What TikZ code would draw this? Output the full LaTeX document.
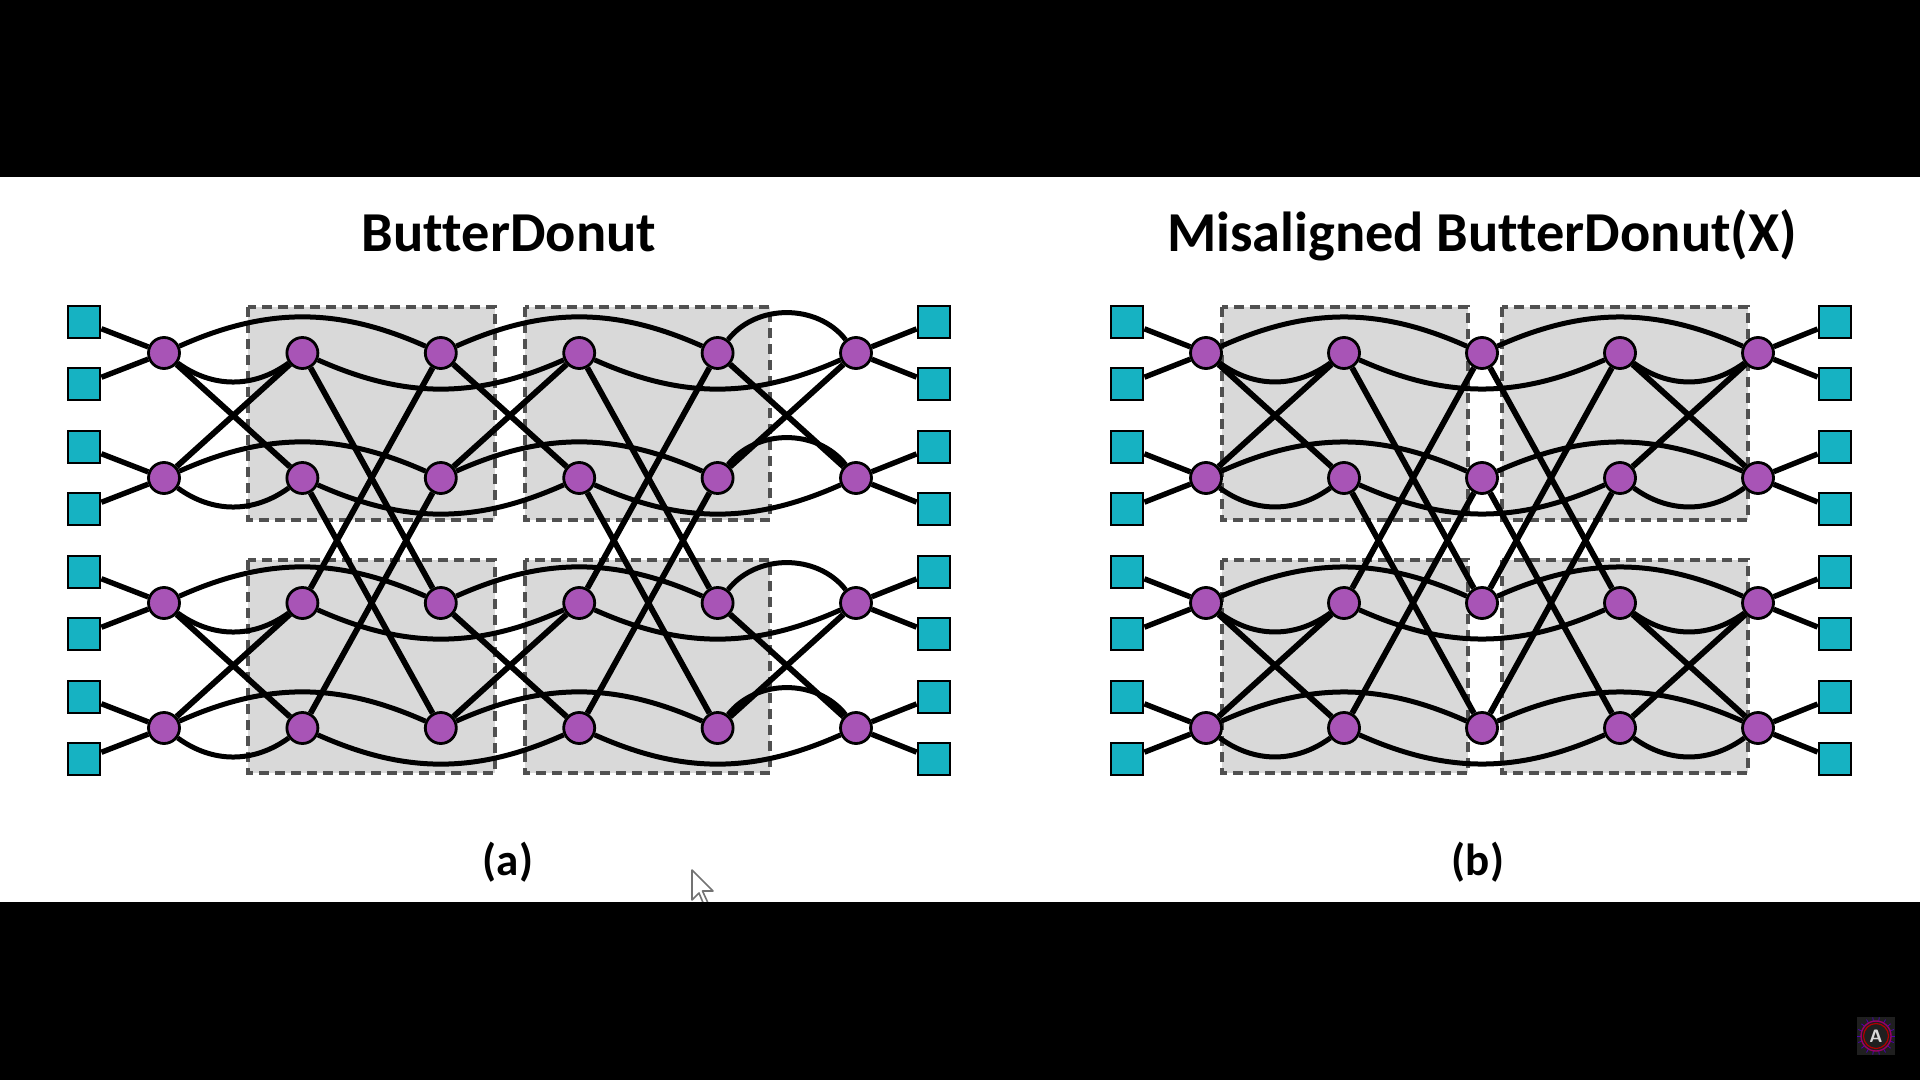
\documentclass[tikz,border=0pt]{standalone}
\usepackage{fontspec}
\setmainfont{Carlito}[Ligatures=CommonOff]
\pgfdeclarelayer{boxes}
\pgfdeclarelayer{edges}
\pgfsetlayers{boxes,edges,main}
\definecolor{routerfill}{RGB}{168,84,182}
\definecolor{termfill}{RGB}{22,178,194}
\definecolor{boxfill}{RGB}{217,217,217}
\definecolor{boxline}{RGB}{80,80,80}
\begin{document}
\begin{tikzpicture}[x=0.5pt,y=-0.5pt,
  router/.style={circle,draw=black,line width=1.4pt,fill=routerfill,minimum size=15.5pt,inner sep=0pt},
  term/.style={rectangle,draw=black,line width=1.4pt,fill=termfill,minimum size=16pt,inner sep=0pt},
  grp/.style={draw=boxline,fill=boxfill,line width=1.8pt,dash pattern=on 5pt off 3pt},
  fly/.style={line width=2.9pt,black},
  ring/.style={line width=2.5pt,black},
  link/.style={line width=2.7pt,black},
  title/.style={font=\bfseries\fontsize{28.2}{31}\selectfont,anchor=base,inner sep=0pt},
  sub/.style={font=\bfseries\fontsize{22.5}{25}\selectfont,anchor=base,inner sep=0pt}]

\useasboundingbox (0,0) rectangle (1920,1080);

% background and group boxes
\begin{pgfonlayer}{boxes}
\fill[white] (0,0) rectangle (1920,1080);
\foreach \xa/\xb in {248/495,525/770,1222/1468,1502/1748}{
  \foreach \ya/\yb in {307/520,560/773}{
    \draw[grp] (\xa,\ya) rectangle (\xb,\yb);
  }
}
\end{pgfonlayer}

% routers
\foreach \c in {0,...,5}{\foreach \r in {0,...,3}{
  \node[router] (a\c\r) at ({164+138.4*\c},{353+125*\r}) {};
}}
\foreach \c in {0,...,4}{\foreach \r in {0,...,3}{
  \node[router] (b\c\r) at ({1206+138*\c},{353+125*\r}) {};
}}

% terminals
\foreach \k/\y in {0/322,1/384,2/447,3/509,4/572,5/634,6/697,7/759}{
  \node[term] (aL\k) at (84,\y) {};
  \node[term] (aR\k) at (934,\y) {};
  \node[term] (bL\k) at (1127,\y) {};
  \node[term] (bR\k) at (1835,\y) {};
}

\begin{pgfonlayer}{edges}
% terminal links
\foreach \r in {0,...,3}{
  \pgfmathtruncatemacro\ka{2*\r}
  \pgfmathtruncatemacro\kb{2*\r+1}
  \draw[link] (aL\ka) -- (a0\r);
  \draw[link] (aL\kb) -- (a0\r);
  \draw[link] (aR\ka) -- (a5\r);
  \draw[link] (aR\kb) -- (a5\r);
  \draw[link] (bL\ka) -- (b0\r);
  \draw[link] (bL\kb) -- (b0\r);
  \draw[link] (bR\ka) -- (b4\r);
  \draw[link] (bR\kb) -- (b4\r);
}
% butterfly links within a half
\foreach \p/\q in {0/1,2/3,4/5}{
  \draw[fly] (a\p0) -- (a\q1);
  \draw[fly] (a\p1) -- (a\q0);
  \draw[fly] (a\p2) -- (a\q3);
  \draw[fly] (a\p3) -- (a\q2);
}
\foreach \p/\q in {0/1,3/4}{
  \draw[fly] (b\p0) -- (b\q1);
  \draw[fly] (b\p1) -- (b\q0);
  \draw[fly] (b\p2) -- (b\q3);
  \draw[fly] (b\p3) -- (b\q2);
}
% butterfly links across halves
\foreach \p/\q in {1/2,3/4}{
  \draw[fly] (a\p0) -- (a\q2);
  \draw[fly] (a\p1) -- (a\q3);
  \draw[fly] (a\p2) -- (a\q0);
  \draw[fly] (a\p3) -- (a\q1);
}
\foreach \p/\q in {1/2,2/3}{
  \draw[fly] (b\p0) -- (b\q2);
  \draw[fly] (b\p1) -- (b\q3);
  \draw[fly] (b\p2) -- (b\q0);
  \draw[fly] (b\p3) -- (b\q1);
}
% donut rings
\foreach \r in {0,...,3}{
  \draw[ring] (a0\r) to[bend right=36] (a1\r);
  \draw[ring] (a0\r) to[bend left=24] (a2\r);
  \draw[ring] (a1\r) to[bend right=24] (a3\r);
  \draw[ring] (a2\r) to[bend left=24] (a4\r);
  \draw[ring] (a3\r) to[bend right=24] (a5\r);
  \draw[ring] (a4\r) to[bend left=52] (a5\r);
  \draw[ring] (b0\r) to[bend right=36] (b1\r);
  \draw[ring] (b0\r) to[bend left=24] (b2\r);
  \draw[ring] (b1\r) to[bend right=24] (b3\r);
  \draw[ring] (b2\r) to[bend left=24] (b4\r);
  \draw[ring] (b3\r) to[bend right=36] (b4\r);
}
\end{pgfonlayer}

% titles and captions
\node[title] (ta) at (509,252) {ButterDonut};
\node[title] (tb) at (1482,252) {Misaligned ButterDonut(X)};
\node[sub] (la) at (508,875) {(a)};
\node[sub] (lb) at (1478,875) {(b)};

% mouse pointer
\draw[fill=white,draw=black!55,line width=0.8pt,line join=round]
  (692,870) -- (692,900) -- (699,893) -- (704,905) -- (708,903) -- (702.5,891) -- (713,891) -- cycle;

% black bands
\fill[black] (0,0) rectangle (1920,177);
\fill[black] (0,902) rectangle (1920,1080);

% corner logo
\fill[black!88] (1857,1017) rectangle (1895,1055);
\foreach \a in {0,20,...,340}{
  \draw[blue!60!purple,line width=0.4pt] ({1876+15*cos(\a)},{1036+15*sin(\a)}) -- ({1876+19*cos(\a)},{1036+19*sin(\a)});
}
\draw[purple!80!blue,line width=0.7pt] (1876,1036) circle (15);
\draw[red!70!black,line width=0.6pt] (1876,1036) circle (12.5);
\node[text=white!85!black,font=\sffamily\bfseries\fontsize{9}{9}\selectfont,inner sep=0pt] (logo) at (1876,1036) {A};
\end{tikzpicture}
\end{document}
